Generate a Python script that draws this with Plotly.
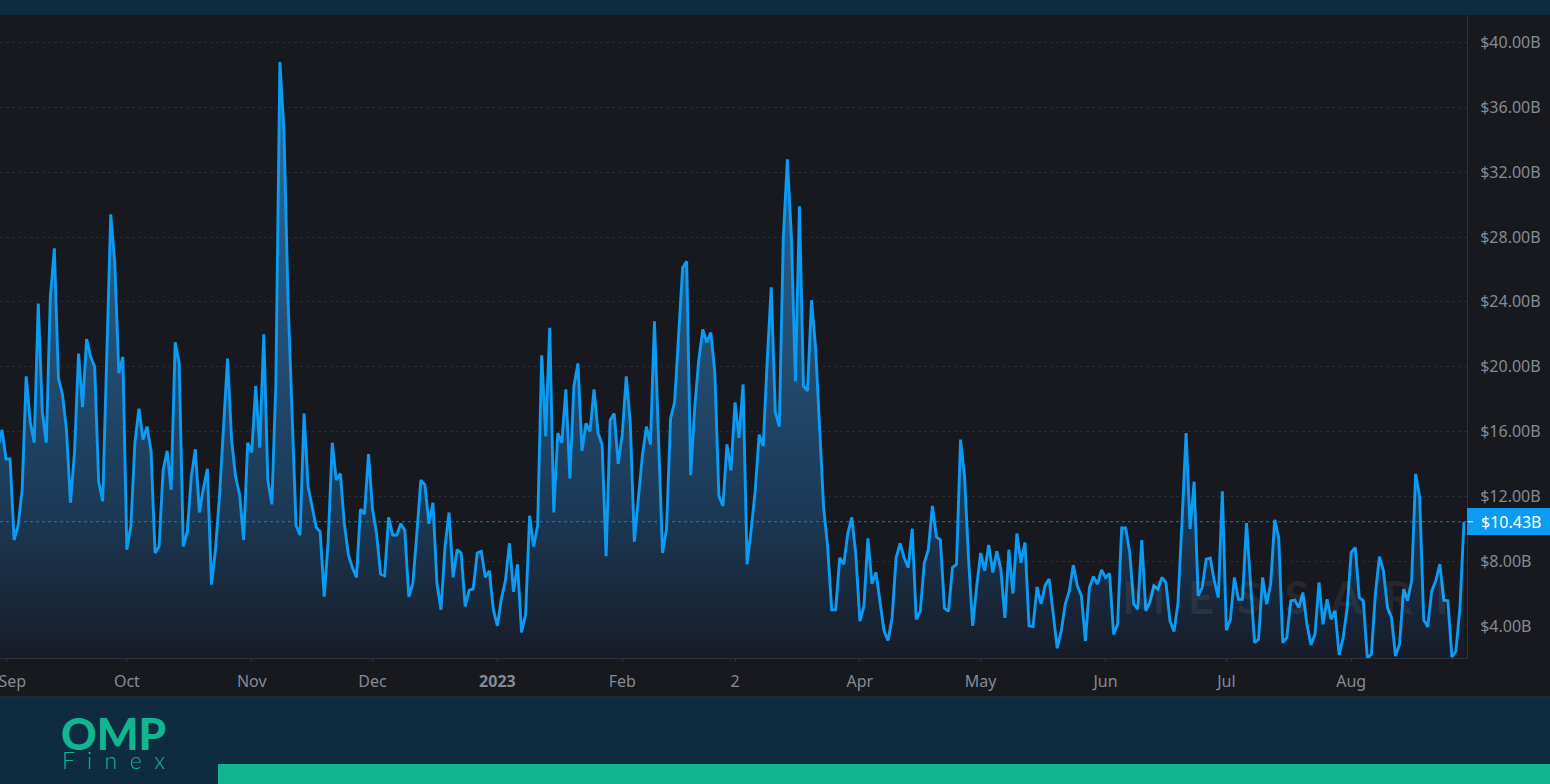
import pandas as pd
import plotly.graph_objects as go

# daily volume in $B
vol_late_2022_a = [
    15.0, 16.1, 14.3, 14.3, 9.3, 10.2, 12.4, 19.4, 16.6, 15.3, 23.9, 17.2, 15.3, 24.3, 27.3, 19.3,
    18.3, 16.1, 11.6, 14.7, 20.8, 17.5, 21.7, 20.6, 20.0, 12.9, 11.7, 20.0, 29.4, 26.4, 19.6, 20.6,
    8.7, 10.2, 15.3, 17.4, 15.5, 16.3, 14.8, 8.5, 8.9, 13.6, 14.8, 12.4, 21.5, 20.2, 8.9, 9.8,
    13.2, 14.9, 11.0, 12.5, 13.7, 6.55, 8.7, 12.0, 16.0, 20.5, 15.5, 13.2, 12.1, 9.3, 15.3,
]
vol_late_2022_b = [
    14.7, 18.8, 15.0, 22.0, 13.0, 11.5, 19.0, 38.8, 34.6, 24.3, 17.0, 10.2, 9.6, 17.1, 12.6, 11.3,
    10.1, 9.8, 5.8, 9.3, 15.3, 13.0, 13.4, 10.3, 8.4, 7.6, 7.0, 11.2, 10.9, 14.6, 11.2, 9.7,
    7.2, 7.1, 10.7, 9.6, 9.6, 10.3, 9.9, 5.8, 6.6, 9.7, 13.0, 12.7, 10.3, 11.6, 6.6, 5.0,
    8.9, 11.0, 7.0, 8.7, 8.5, 5.2, 6.2, 6.3, 8.5, 8.6, 7.0, 7.4, 5.0,
]
vol_early_2023 = [
    4.0, 5.7, 6.8, 9.1, 6.1, 7.8, 3.6, 4.7, 10.8, 8.9, 10.2, 20.7, 15.7, 22.4, 11.0, 15.9,
    15.3, 18.6, 13.1, 18.8, 20.2, 14.8, 16.5, 16.0, 18.6, 15.9, 15.2, 8.3, 16.7, 17.1, 14.0, 15.8,
    19.4, 16.5, 9.2, 12.0, 14.5, 16.3, 15.2, 22.8, 16.0, 8.5, 10.0, 16.8, 17.8, 21.7, 26.1, 26.5,
    13.3, 17.5, 20.4, 22.3, 21.5, 22.1, 19.6, 12.0, 11.4, 15.2, 13.6, 17.8, 15.6, 18.9, 7.8, 9.9,
    12.3, 15.8, 15.1, 20.4, 24.9, 17.2, 16.3, 28.0, 32.8, 28.0, 19.1, 29.9, 18.8, 18.5, 24.1, 21.2,
    16.5, 11.3, 8.9, 5.0, 5.0, 8.2, 7.8, 9.7, 10.7, 8.4, 4.3, 5.2, 9.4, 6.6, 7.3, 5.4,
    3.7, 3.1, 4.5, 8.2, 9.1, 8.2, 7.6, 10.0, 4.4, 4.9, 7.9, 8.7, 11.4, 9.5, 9.3, 5.1,
    4.9, 7.6, 7.8, 15.5, 13.2, 8.1, 4.0, 6.4, 8.5, 7.4, 9.0, 7.3, 8.6, 7.5,
]
vol_late_2023 = [
    4.5, 8.7, 6.0, 9.7, 7.9, 9.15, 4.0, 3.95, 6.4, 5.35, 6.5, 6.9, 4.72, 2.62, 3.69, 5.34,
    6.16, 7.75, 6.47, 5.86, 3.07, 6.37, 7.05, 6.58, 7.46, 6.99, 7.24, 3.48, 4.1, 10.04, 10.04, 8.54,
    5.34, 5.03, 9.3, 4.93, 5.44, 6.47, 6.27, 6.99, 6.68, 4.31, 3.65, 5.44, 10.49, 15.9, 9.98, 12.9,
    5.86, 6.37, 8.12, 8.19, 6.78, 5.75, 12.31, 3.73, 4.41, 6.99, 5.65, 5.65, 10.35, 6.78, 2.97, 3.18,
    6.99, 5.34, 6.58, 10.54, 9.46, 2.97, 3.28, 5.55, 5.59, 5.13, 6.06, 4.1, 2.82, 3.48, 6.68, 4.1,
    5.65, 4.41, 4.93, 2.21, 3.28, 5.13, 8.54, 8.85, 5.75, 5.55, 2.0, 2.25, 5.96, 8.27, 7.4, 5.13,
    4.52, 2.14, 2.87, 6.27, 5.55, 6.78, 13.38, 11.94, 4.37, 3.94, 6.16, 6.78, 7.81, 5.59, 5.55, 2.08,
    2.45, 5.13, 10.43,
]
volume = vol_late_2022_a + vol_late_2022_b + vol_early_2023 + vol_late_2023
dates = pd.date_range("2022-08-30", periods=len(volume), freq="D")

month_ticks = ["2022-09-01", "2022-10-01", "2022-11-01", "2022-12-01", "2023-01-01", "2023-02-01",
               "2023-03-01", "2023-04-01", "2023-05-01", "2023-06-01", "2023-07-01", "2023-08-01"]
month_labels = ["\u00a0\u00a0\u00a0Sep", "Oct", "Nov", "Dec", "<b>2023</b>", "Feb", "2", "Apr", "May", "Jun", "Jul", "Aug"]
price_ticks = [4, 8, 12, 16, 20, 24, 28, 32, 36, 40]
price_labels = [f"${v}.00B" for v in price_ticks]
last_value = 10.43
last_label = "$10.43B"

W, H = 1550, 784
LEFT, RIGHT, TOP, BOTTOM = 0, 1467, 15, 658
NAVY = "#0e2b40"
DARK = "#17191f"
GREEN = "#12b591"
BLUE = "#0b9bf2"
LABEL = "#858a94"
NB = "\u00a0"


def px_x(x):
    return (x - LEFT) / (RIGHT - LEFT)


def px_y(y):
    return (BOTTOM - y) / (BOTTOM - TOP)


fig = go.Figure()
fig.add_scatter(
    x=dates, y=volume, mode="lines",
    line=dict(color=BLUE, width=2.9, shape="linear"),
    fill="tozeroy",
    fillgradient=dict(
        type="vertical", start=40, stop=2,
        colorscale=[[0, "#2f6ea5"], [0.5, "#234d72"], [0.75, "#1c3a57"], [1, "#171c28"]],
    ),
    showlegend=False, hoverinfo="skip",
)

fig.update_xaxes(
    range=["2022-08-30 12:00", "2023-08-29 18:00"],
    tickvals=month_ticks, ticktext=month_labels,
    ticks="outside", ticklen=3, tickcolor="#2f333c", tickangle=0,
    tickfont=dict(family="Noto Sans", size=16, color=LABEL),
    ticklabelstandoff=6, ticklabeloverflow="allow", automargin=False,
    showgrid=False, zeroline=False,
    showline=True, linecolor="#2f333c", linewidth=1,
)
fig.update_yaxes(
    range=[2.02, 41.7], side="right",
    tickvals=price_ticks, ticktext=price_labels,
    tickfont=dict(family="Noto Sans", size=16, color=LABEL),
    ticks="", ticklabelstandoff=9, automargin=False,
    showgrid=True, gridcolor="#272b33", griddash="dot", gridwidth=1,
    zeroline=False, showline=True, linecolor="#2f333c", linewidth=1,
)

shapes = [
    # dotted last value line
    dict(type="line", xref="paper", yref="y", x0=0, x1=1, y0=last_value, y1=last_value,
         line=dict(color=BLUE, width=1, dash="dot"), opacity=0.75),
    # last value tag and its small tick
    dict(type="rect", xref="paper", yref="paper", x0=px_x(1467), x1=px_x(W), y0=px_y(508), y1=px_y(535),
         fillcolor=BLUE, line_width=0),
    dict(type="line", xref="paper", yref="y", x0=px_x(1468), x1=px_x(1473), y0=last_value, y1=last_value,
         line=dict(color="#dff1fd", width=1)),
    # navy bands around the chart panel
    dict(type="rect", xref="paper", yref="paper", x0=px_x(0), x1=px_x(W), y0=px_y(0), y1=px_y(TOP),
         fillcolor=NAVY, line_width=0),
    dict(type="rect", xref="paper", yref="paper", x0=px_x(0), x1=px_x(W), y0=px_y(697), y1=px_y(H),
         fillcolor=NAVY, line_width=0),
    dict(type="rect", xref="paper", yref="paper", x0=px_x(218), x1=px_x(W), y0=px_y(764), y1=px_y(H),
         fillcolor=GREEN, line_width=0),
    dict(type="line", xref="paper", yref="paper", x0=px_x(0), x1=px_x(W), y0=px_y(697), y1=px_y(697),
         line=dict(color="#2b3540", width=1)),
]

annotations = [
    dict(text=(NB + NB).join("MESSARI"), xref="paper", yref="paper", x=px_x(1285), y=px_y(596),
         xanchor="center", yanchor="middle", showarrow=False,
         font=dict(family="Lato", size=46, color="rgba(255,255,255,0.07)", weight=700)),
    dict(text=last_label, xref="paper", yref="y", x=px_x(1511), y=last_value,
         xanchor="center", yanchor="middle", showarrow=False,
         font=dict(family="Noto Sans", size=16, color="#ffffff")),
    dict(text="OMP", xref="paper", yref="paper", x=px_x(113), y=px_y(733),
         xanchor="center", yanchor="middle", showarrow=False,
         font=dict(family="Lato", size=44, color=GREEN, weight=900)),
    dict(text=(NB + NB).join("Finex"), xref="paper", yref="paper", x=px_x(113), y=px_y(760),
         xanchor="center", yanchor="middle", showarrow=False,
         font=dict(family="Lato", size=23, color=GREEN, weight=300)),
]

fig.update_layout(
    width=W, height=H,
    margin=dict(l=LEFT, r=W - RIGHT, t=TOP, b=H - BOTTOM, pad=0, autoexpand=False),
    paper_bgcolor=DARK, plot_bgcolor=DARK,
    shapes=shapes, annotations=annotations,
    showlegend=False,
)

fig.write_html("out.html", config={"displayModeBar": False},
               post_script="document.body.style.margin='0';document.body.style.overflow='hidden';")
